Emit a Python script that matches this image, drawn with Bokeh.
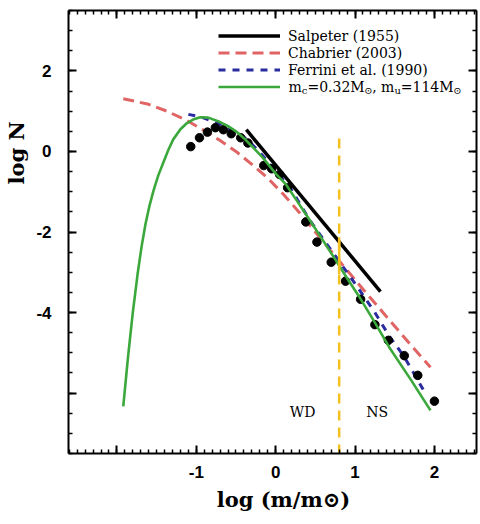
import numpy as np
from bokeh.plotting import figure
from bokeh.models import (Range1d, FixedTicker, LinearAxis, Legend, LegendItem,
                          Label, ColumnDataSource, CustomLabelingPolicy, Title)
from bokeh.core.properties import value
from bokeh.embed import file_html
from bokeh.resources import INLINE

# ---------------- data ----------------
salpeter_x = [-0.37, 1.32]
salpeter_y = [0.54, -3.48]

chabrier_x = [-1.92, -1.6, -1.37, -1.12, -0.9, -0.7, -0.5, -0.3, -0.1, 0.1,
              0.3, 0.5, 0.7, 0.9, 1.1, 1.3, 1.5, 1.7, 1.95]
chabrier_y = [1.31, 1.17, 1.00, 0.77, 0.52, 0.27, 0.0, -0.32, -0.66, -1.07,
              -1.52, -2.0, -2.48, -2.95, -3.42, -3.88, -4.34, -4.80, -5.36]

ferrini_x = [-1.1, -0.95, -0.79, -0.6, -0.37, -0.2, -0.075, 0.18, 0.43, 0.76,
             1.0, 1.25, 1.43, 1.62, 1.89]
ferrini_y = [0.92, 0.86, 0.75, 0.58, 0.32, -0.02, -0.31, -0.89, -1.71, -2.62,
             -3.28, -4.0, -4.58, -5.1, -6.02]

model_x = [-1.92, -1.86, -1.80, -1.74, -1.69, -1.64, -1.59, -1.54, -1.48, -1.41,
           -1.35, -1.29, -1.20, -1.12, -1.03, -0.95, -0.85, -0.70, -0.60, -0.50,
           -0.40, -0.30, -0.16, 0.0, 0.13, 0.30, 0.43, 0.60, 0.76, 0.90,
           1.05, 1.25, 1.43, 1.70, 1.95]
model_y = [-6.33, -5.10, -4.00, -3.05, -2.37, -1.80, -1.35, -0.98, -0.60, -0.25,
           0.05, 0.30, 0.55, 0.70, 0.80, 0.85, 0.84, 0.73, 0.63, 0.50,
           0.33, 0.13, -0.16, -0.55, -0.82, -1.32, -1.71, -2.22, -2.71, -3.15,
           -3.60, -4.25, -4.86, -5.66, -6.43]

obs_x = [-1.07, -0.96, -0.86, -0.76, -0.66, -0.56, -0.44, -0.35, -0.15, -0.05,
         0.05, 0.15, 0.38, 0.52, 0.70, 0.88, 1.07, 1.25, 1.42, 1.62, 1.79, 2.0]
obs_y = [0.12, 0.34, 0.48, 0.59, 0.54, 0.44, 0.34, 0.21, -0.35, -0.43,
         -0.57, -0.90, -1.75, -2.25, -2.75, -3.22, -3.67, -4.30, -4.69, -5.07, -5.56, -6.20]

boundary_x = [0.80, 0.80]
boundary_y = [0.32, -7.5]
boundary_solid_y = [-2.13, -3.04]

region_labels = ["WD", "NS"]
region_x = [0.34, 1.28]
region_y = [-6.48, -6.48]

x_major = [-2, -1, 0, 1, 2]
x_minor = [round(-2.6 + 0.1 * i, 1) for i in range(52)]
y_major = [-6, -4, -2, 0, 2]
y_minor = [-7.5 + 0.5 * i for i in range(23)]
x_tick_text = {-1: "-1", 0: "0", 1: "1", 2: "2"}
y_tick_text = {-4: "-4", -2: "-2", 0: "0", 2: "2"}

# ---------------- figure ----------------
p = figure(width=480, height=524, x_range=Range1d(-2.61, 2.53), y_range=Range1d(-7.5, 3.5),
           output_backend="svg", toolbar_location=None,
           x_axis_location=None, y_axis_location=None,
           min_border_left=68, min_border_right=0, min_border_top=10, min_border_bottom=71)
p.grid.visible = False
p.outline_line_color = None
p.background_fill_color = "white"
p.border_fill_color = "white"

# hide the first label (the -2 / -6 ticks carry no number in the reference)
skip_first = CustomLabelingPolicy(code="""
for (const i of indices) {
  if (i == 0) indices.unset(i)
}
return indices
""")
skip_all = CustomLabelingPolicy(code="""
for (const i of indices) {
  indices.unset(i)
}
return indices
""")


def style_axis(ax, major, minor, policy, font_size, overrides):
    ax.ticker = FixedTicker(ticks=major, minor_ticks=minor)
    ax.axis_line_width = 2
    ax.axis_line_color = "black"
    ax.major_tick_in = 8
    ax.major_tick_out = 0
    ax.minor_tick_in = 4
    ax.minor_tick_out = 0
    ax.major_tick_line_width = 2
    ax.minor_tick_line_width = 1.5
    ax.major_label_policy = policy
    ax.major_label_overrides = overrides
    ax.major_label_text_font = "Liberation Sans"
    ax.major_label_text_font_style = "bold"
    ax.major_label_text_font_size = font_size
    ax.major_label_text_color = "black"


xb = LinearAxis(axis_label="\u00a0\u00a0\u00a0log (m/m\u2299)")
style_axis(xb, x_major, x_minor, skip_first, "17px", x_tick_text)
xb.major_label_standoff = 12
xb.axis_label_standoff = 6
xb.axis_label_text_font = "DejaVu Serif"
xb.axis_label_text_font_style = "bold"
xb.axis_label_text_font_size = "21px"
xb.axis_label_text_color = "black"
p.add_layout(xb, "below")

yl = LinearAxis()
style_axis(yl, y_major, y_minor, skip_first, "17px", y_tick_text)
yl.major_label_standoff = 17
p.add_layout(yl, "left")

# y title placed next to the left axis, shifted up as in the reference
ytitle = Title(text="log N", align="left", offset=269, vertical_align="bottom", standoff=2,
               text_font="DejaVu Serif", text_font_style="bold", text_font_size="21px",
               text_color="black")
p.add_layout(ytitle, "left")

xt = LinearAxis()
style_axis(xt, x_major, x_minor, skip_all, "1px", {})
xt.major_label_standoff = 0
p.add_layout(xt, "above")

yr = LinearAxis()
style_axis(yr, y_major, y_minor, skip_all, "1px", {})
yr.major_label_standoff = 0
p.add_layout(yr, "right")

# ---------------- glyphs ----------------
r_chab = p.line(chabrier_x, chabrier_y, line_color="#e06464", line_width=3, line_dash="11 6")
r_ferr = p.line(ferrini_x, ferrini_y, line_color="#2b2ba0", line_width=3, line_dash="7 7")
p.scatter(obs_x, obs_y, size=8.5, fill_color="black", line_color="black")
r_salp = p.line(salpeter_x, salpeter_y, line_color="black", line_width=3.5)
r_model = p.line(model_x, model_y, line_color="#3aa83a", line_width=2.6)

p.line(boundary_x, boundary_y, line_color="#f4c020", line_width=2.5, line_dash="10 7")
p.line(boundary_x, boundary_solid_y, line_color="#f4c020", line_width=2.5)

src = ColumnDataSource(dict(x=region_x, y=region_y, t=region_labels))
p.text(x="x", y="y", text="t", source=src, text_font=value("DejaVu Serif"),
       text_font_size="14px", text_align="center", text_baseline="middle", text_color="black")

# ---------------- legend ----------------
legend = Legend(items=[
    LegendItem(label="Salpeter (1955)", renderers=[r_salp]),
    LegendItem(label="Chabrier (2003)", renderers=[r_chab]),
    LegendItem(label="Ferrini et al. (1990)", renderers=[r_ferr]),
    LegendItem(label=" ", renderers=[r_model]),
], location=(150, 358))
legend.glyph_width = 62
legend.glyph_height = 17
legend.label_height = 17
legend.label_standoff = 8
legend.spacing = 0
legend.padding = 0
legend.margin = 0
legend.border_line_color = None
legend.background_fill_alpha = 0
legend.label_text_font = "DejaVu Serif"
legend.label_text_font_size = "14px"
legend.label_text_color = "black"
p.add_layout(legend)

# fourth legend label with subscripts (screen units relative to the frame)
row4_y = 367
pieces = [
    ("m", 220.0, 0, "14px"),
    ("c", 233.3, -4, "10px"),
    ("=0.32M", 238.9, 0, "14px"),
    ("\u2299", 295.7, -4, "10px"),
    (", m", 303.7, 0, "14px"),
    ("u", 325.9, -4, "10px"),
    ("=114M", 332.3, 0, "14px"),
    ("\u2299", 384.7, -4, "10px"),
]
for txt, sx, dy, fs in pieces:
    p.add_layout(Label(x=sx, y=row4_y + dy, x_units="screen", y_units="screen", text=txt,
                       text_font="DejaVu Serif", text_font_size=fs, text_align="left",
                       text_baseline="middle", text_color="black"))

open("out.html", "w").write(file_html(p, INLINE))
